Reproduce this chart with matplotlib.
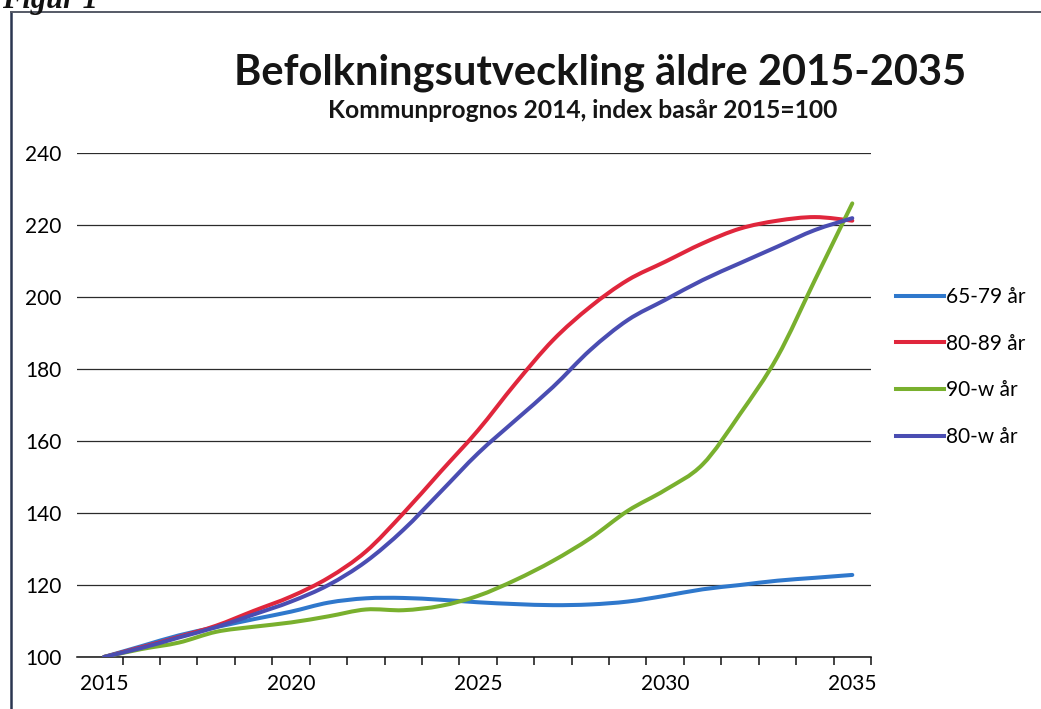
import matplotlib
matplotlib.use("Agg")
import matplotlib.pyplot as plt
from matplotlib.lines import Line2D
from matplotlib.path import Path
from matplotlib.patches import PathPatch

years = list(range(2015, 2036))
year_labels = ["2015", "2020", "2025", "2030", "2035"]
label_years = [2015, 2020, 2025, 2030, 2035]

s_65_79 = [100, 103, 106, 108.3, 110.5, 112.6, 115.1, 116.3, 116.4, 115.9, 115.2, 114.7, 114.4, 114.6, 115.4, 117.0, 118.8, 120.0, 121.2, 122.0, 122.8]
s_80_89 = [100, 102.7, 105.6, 108.7, 112.8, 116.8, 122.0, 129.3, 139.9, 151.5, 163.0, 176.0, 188.0, 197.3, 204.7, 209.8, 214.9, 219.0, 221.2, 222.2, 221.2]
s_90_w = [100, 102.2, 104.0, 107.0, 108.4, 109.6, 111.3, 113.2, 113.0, 114.2, 117.0, 121.4, 126.7, 133.0, 140.6, 146.4, 153.5, 167.5, 183.4, 204.7, 226.0]
s_80_w = [100, 102.5, 105.4, 108.3, 111.8, 115.4, 120.0, 126.5, 135.3, 145.9, 156.6, 165.8, 175.0, 185.3, 193.6, 199.2, 204.7, 209.4, 214.0, 218.6, 221.9]

series_names = ["65-79 år", "80-89 år", "90-w år", "80-w år"]
series_values = [s_65_79, s_80_89, s_90_w, s_80_w]
colors = ["#2f78cc", "#e0263c", "#79b02e", "#4a4db2"]

yticks = [100, 120, 140, 160, 180, 200, 220, 240]


def smooth_path(xs, ys):
    """Bezier path through the data points (Excel-style smoothed line)."""
    pts = list(zip(xs, ys))
    n = len(pts)
    verts = [pts[0]]
    codes = [Path.MOVETO]
    for i in range(n - 1):
        p0 = pts[i - 1] if i > 0 else pts[i]
        p1 = pts[i]
        p2 = pts[i + 1]
        p3 = pts[i + 2] if i + 2 < n else pts[i + 1]
        c1 = (p1[0] + (p2[0] - p0[0]) / 6, p1[1] + (p2[1] - p0[1]) / 6)
        c2 = (p2[0] - (p3[0] - p1[0]) / 6, p2[1] - (p3[1] - p1[1]) / 6)
        verts += [c1, c2, p2]
        codes += [Path.CURVE4, Path.CURVE4, Path.CURVE4]
    return Path(verts, codes)


W, H = 1041, 709
fig = plt.figure(figsize=(W / 100, H / 100), dpi=100)
fig.patch.set_facecolor("white")

ax_left, ax_right = 77, 871
ax_bottom, ax_top = 657, 153
ax = fig.add_axes([ax_left / W, 1 - ax_bottom / H, (ax_right - ax_left) / W, (ax_bottom - ax_top) / H])

x = list(range(len(years)))
handles = []
for name, vals, c in zip(series_names, series_values, colors):
    patch = PathPatch(smooth_path(x, vals), fill=False, ec=c, lw=2.9, capstyle="round", joinstyle="round", zorder=3)
    ax.add_patch(patch)
    handles.append(Line2D([], [], color=c, lw=2.9, label=name))

ax.set_xlim(-0.72, 20.5)
ax.set_ylim(100, 240)
ax.set_yticks(yticks)
ax.set_yticklabels([str(v) for v in yticks], fontsize=15, family="Lato")
ax.yaxis.grid(True, color="#2b2b2b", lw=0.9)
ax.set_axisbelow(True)
ax.tick_params(axis="y", length=0, pad=11)

ax.set_xticks([years.index(y) for y in label_years])
ax.set_xticklabels(year_labels, fontsize=15, family="Lato")
ax.set_xticks([i + 0.5 for i in range(len(years))], minor=True)
ax.tick_params(axis="x", which="major", length=0, pad=12)
ax.tick_params(axis="x", which="minor", length=6, width=1.1, color="#111111", direction="out")

for side in ["top", "right", "left"]:
    ax.spines[side].set_visible(False)
ax.spines["bottom"].set_color("#111111")
ax.spines["bottom"].set_linewidth(1.1)

fig.text(600 / W, 1 - 73 / H, "Befolkningsutveckling äldre 2015-2035", ha="center", va="center",
         fontsize=30, fontweight="bold", family="Lato", color="#151515")
fig.text(583 / W, 1 - 111 / H, "Kommunprognos 2014, index basår 2015=100", ha="center", va="center",
         fontsize=17.7, fontweight="bold", family="Lato", color="#151515")

fig.legend(handles=handles, loc="upper left", bbox_to_anchor=(896 / W, 1 - 287 / H), frameon=False,
           prop={"family": "Lato", "size": 15}, handlelength=2.3, handletextpad=0.12,
           labelspacing=1.28, borderpad=0, borderaxespad=0)

fig.text(2 / W, 1 - 8 / H, "Figur 1", ha="left", va="baseline", fontsize=22, fontweight="bold",
         style="italic", family="Liberation Serif", color="#111111")

fig.add_artist(Line2D([11 / W, 11 / W], [0, 1 - 12 / H], transform=fig.transFigure, color="#2a3550", lw=1.8))
fig.add_artist(Line2D([11 / W, 1], [1 - 12 / H, 1 - 12 / H], transform=fig.transFigure, color="#555a66", lw=1.4))

fig.savefig("out.png", dpi=100)
